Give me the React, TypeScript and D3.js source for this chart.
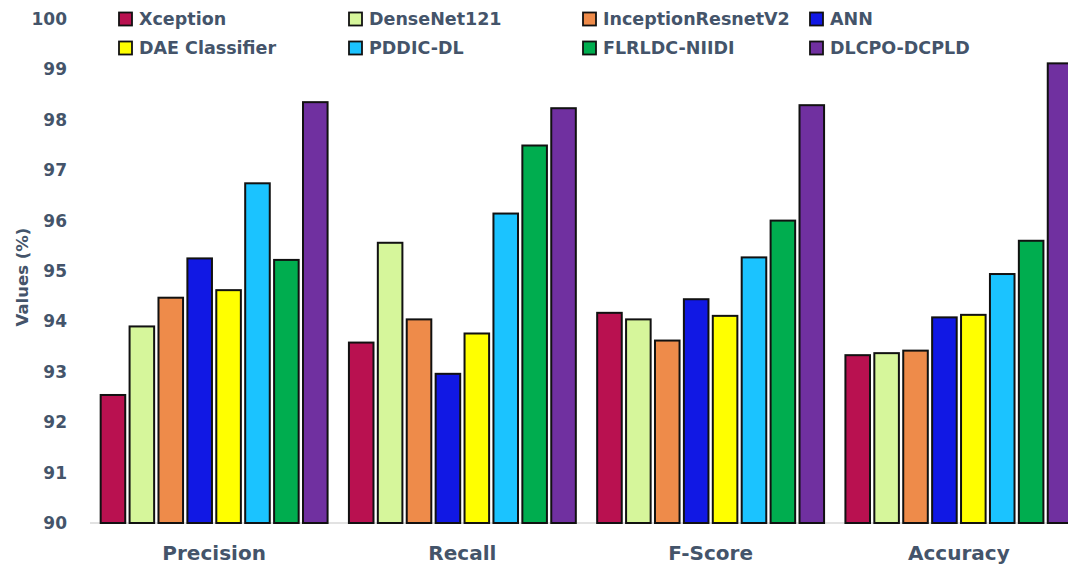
import React from "react";
import * as d3 from "d3";

const categories = ["Precision", "Recall", "F-Score", "Accuracy"];
const models = [
  "Xception",
  "DenseNet121",
  "InceptionResnetV2",
  "ANN",
  "DAE Classifier",
  "PDDIC-DL",
  "FLRLDC-NIIDI",
  "DLCPO-DCPLD",
];
const colors = ["#b91150", "#d6f69b", "#ee8b4a", "#1118e4", "#ffff00", "#1bc3ff", "#00ad4f", "#7030a0"];

// values per model, in category order
const xception = [92.54, 93.58, 94.17, 93.33];
const denseNet121 = [93.9, 95.56, 94.04, 93.37];
const inceptionResnetV2 = [94.47, 94.04, 93.62, 93.42];
const ann = [95.25, 92.96, 94.44, 94.08];
const daeClassifier = [94.62, 93.76, 94.11, 94.13];
const pddicDl = [96.74, 96.14, 95.27, 94.94];
const flrldcNiidi = [95.22, 97.49, 96.0, 95.6];
const dlcpoDcpld = [98.35, 98.23, 98.29, 99.12];
const seriesValues = [xception, denseNet121, inceptionResnetV2, ann, daeClassifier, pddicDl, flrldcNiidi, dlcpoDcpld];

const yTicks = [90, 91, 92, 93, 94, 95, 96, 97, 98, 99, 100];

const W = 1068;
const H = 566;
const textColor = "#44546a";
const font = "'DejaVu Sans', 'Open Sans', sans-serif";

export default function App() {
  const y = d3.scaleLinear().domain([90, 100]).range([523, 19]);
  const x0 = d3.scaleBand().domain(categories).range([90, 1083]).paddingInner(0.086).paddingOuter(0.043);
  const x1 = d3.scaleBand().domain(models).range([0, x0.bandwidth()]).paddingInner(0.15);

  const legendCols = [119, 349, 583, 810];
  const legendRows = [19, 48];

  return (
    <svg width={W} height={H} style={{ position: "absolute", left: 0, top: 0, background: "#fff" }}>
      {/* y tick labels */}
      {yTicks.map((t) => (
        <text
          key={t}
          x={67}
          y={y(t)}
          dy="0.35em"
          textAnchor="end"
          fontFamily={font}
          fontWeight="bold"
          fontSize={17}
          fill={textColor}
        >
          {t}
        </text>
      ))}
      {/* y axis title */}
      <text
        transform={`translate(22,277) rotate(-90)`}
        textAnchor="middle"
        dy="0.35em"
        fontFamily={font}
        fontWeight="bold"
        fontSize={16.5}
        fill={textColor}
      >
        Values (%)
      </text>
      {/* baseline */}
      <line x1={90} x2={W} y1={y(90)} y2={y(90)} stroke="#d9d9d9" strokeWidth={1.5} />
      {/* bars */}
      {categories.map((c, ci) => (
        <g key={c} transform={`translate(${x0(c)},0)`}>
          {models.map((m, mi) => {
            const v = seriesValues[mi][ci];
            return (
              <rect
                key={m}
                x={x1(m)}
                y={y(v)}
                width={x1.bandwidth()}
                height={y(90) - y(v)}
                fill={colors[mi]}
                stroke="#111"
                strokeWidth={2}
              />
            );
          })}
          <text
            x={x0.bandwidth() / 2}
            y={553}
            dy="0.35em"
            textAnchor="middle"
            fontFamily={font}
            fontWeight="bold"
            fontSize={20}
            fill={textColor}
          >
            {c}
          </text>
        </g>
      ))}
      {/* legend */}
      {models.map((m, i) => {
        const col = i % 4;
        const row = Math.floor(i / 4);
        const lx = legendCols[col];
        const ly = legendRows[row];
        return (
          <g key={m} transform={`translate(${lx},${ly})`}>
            <rect x={0} y={-6.5} width={13} height={13} fill={colors[i]} stroke="#111" strokeWidth={1.8} />
            <text
              x={20}
              y={0}
              dy="0.35em"
              fontFamily={font}
              fontWeight="bold"
              fontSize={17.5}
              fill={textColor}
            >
              {m}
            </text>
          </g>
        );
      })}
    </svg>
  );
}
